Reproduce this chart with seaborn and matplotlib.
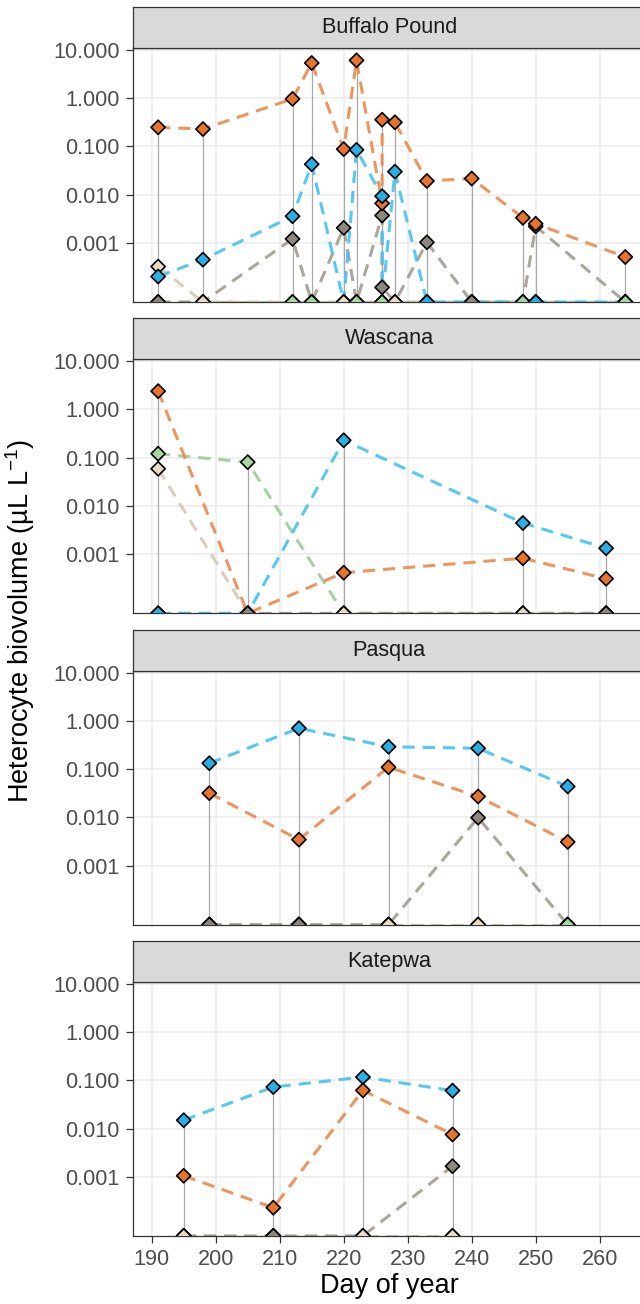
import numpy as np
import pandas as pd
import matplotlib
matplotlib.use("Agg")
import matplotlib.pyplot as plt
import seaborn as sns

# ---------------------------------------------------------------------------
# Heterocyte biovolume (uL/L) per taxon, by lake and day of year.
# A value of 0 means no heterocytes were counted in that sample.
# ---------------------------------------------------------------------------
lakes = ["Buffalo Pound", "Wascana", "Pasqua", "Katepwa"]
taxa = ["Nodularia", "Anabaenopsis", "Gloeotrichia", "Dolichospermum", "Aphanizomenon"]

# Buffalo Pound (two casts on day 226)
bp_day = [191, 198, 212, 215, 220, 222, 226, 226, 228, 233, 240, 248, 250, 264]
bp_dolichospermum = [0.249, 0.229, 0.966, 5.36, 0.088, 6.08, 0.0066, 0.358, 0.316,
                     0.0192, 0.0216, 0.00332, 0.00249, 0.00051]
bp_aphanizomenon = [0.000201, 0.00045, 0.00358, 0.0428, 0, 0.085, 0.0093, 0, 0.030,
                    0, 0, 0, 0, 0]
bp_gloeotrichia = [0, 0, 0.00121, 0, 0.00205, 0, 0.0037, 0.00012, 0, 0.00103,
                   0, 0, 0.0022, 0]
bp_anabaenopsis = [0.000323, 0, 0, 0, 0, 0, 0, 0, 0, 0, 0, 0, 0, 0]
bp_nodularia = [0, 0, 0, 0, 0, 0, 0, 0, 0, 0, 0, 0, 0, 0]

# Wascana
wa_day = [191, 205, 220, 248, 261]
wa_dolichospermum = [2.40, 0, 0.000414, 0.000825, 0.00031]
wa_aphanizomenon = [0, 0, 0.23, 0.00443, 0.00133]
wa_gloeotrichia = [0, 0, 0, 0, 0]
wa_anabaenopsis = [0.059, 0, 0, 0, 0]
wa_nodularia = [0.121, 0.081, 0, 0, 0]

# Pasqua
pa_day = [199, 213, 227, 241, 255]
pa_dolichospermum = [0.0316, 0.00344, 0.109, 0.027, 0.00308]
pa_aphanizomenon = [0.132, 0.70, 0.29, 0.269, 0.0435]
pa_gloeotrichia = [0, 0, 0, 0.0098, 0]
pa_anabaenopsis = [0, 0, 0, 0, 0]
pa_nodularia = [0, 0, 0, 0, 0]

# Katepwa
ka_day = [195, 209, 223, 237]
ka_dolichospermum = [0.00105, 0.000229, 0.062, 0.00753]
ka_aphanizomenon = [0.0149, 0.0726, 0.117, 0.0612]
ka_gloeotrichia = [0, 0, 0, 0.00166]
ka_anabaenopsis = [0, 0, 0, 0]
ka_nodularia = [0, 0, 0, 0]

# taxon entered last in each sample's rows (ordering of the long table)
bp_last_row = ["Gloeotrichia", "Anabaenopsis", "Nodularia", "Nodularia", "Anabaenopsis",
               "Nodularia", "Nodularia", "Nodularia", "Anabaenopsis", "Aphanizomenon",
               "Gloeotrichia", "Nodularia", "Aphanizomenon", "Nodularia"]
wa_last_row = ["Aphanizomenon", "Gloeotrichia", "Anabaenopsis", "Anabaenopsis", "Gloeotrichia"]
pa_last_row = ["Gloeotrichia", "Gloeotrichia", "Anabaenopsis", "Anabaenopsis", "Nodularia"]
ka_last_row = ["Anabaenopsis", "Gloeotrichia", "Anabaenopsis", "Anabaenopsis"]

y_ticks = [0.001, 0.01, 0.1, 1, 10]
y_tick_labels = ["0.001", "0.010", "0.100", "1.000", "10.000"]
x_ticks = [190, 200, 210, 220, 230, 240, 250, 260]

# ---------------------------------------------------------------------------
# Long table
# ---------------------------------------------------------------------------
lake_tables = {
    "Buffalo Pound": (bp_day, [bp_nodularia, bp_anabaenopsis, bp_gloeotrichia,
                               bp_dolichospermum, bp_aphanizomenon], bp_last_row),
    "Wascana": (wa_day, [wa_nodularia, wa_anabaenopsis, wa_gloeotrichia,
                         wa_dolichospermum, wa_aphanizomenon], wa_last_row),
    "Pasqua": (pa_day, [pa_nodularia, pa_anabaenopsis, pa_gloeotrichia,
                        pa_dolichospermum, pa_aphanizomenon], pa_last_row),
    "Katepwa": (ka_day, [ka_nodularia, ka_anabaenopsis, ka_gloeotrichia,
                         ka_dolichospermum, ka_aphanizomenon], ka_last_row),
}

records = []
for lake in lakes:
    days, series, last_row = lake_tables[lake]
    by_taxon = dict(zip(taxa, series))
    for i, d in enumerate(days):
        order = [t for t in taxa if t != last_row[i]] + [last_row[i]]
        for t in order:
            records.append({"lake": lake, "sample": i, "day": d, "taxon": t,
                            "biovolume": by_taxon[t][i]})
df = pd.DataFrame(records)

y_lo, y_hi = 10 ** -4.225, 10 ** 1.04
x_lo, x_hi = 187.12, 267.08
# zeros sit on the lower panel edge
df["y"] = np.where(df["biovolume"] > 0, df["biovolume"], y_lo)

marker_pal = {"Dolichospermum": "#E8742C", "Aphanizomenon": "#2AAEE6",
              "Gloeotrichia": "#8E877D", "Anabaenopsis": "#EAD9C3",
              "Nodularia": "#A6D6A1"}
line_pal = {"Dolichospermum": "#EA8A4C", "Aphanizomenon": "#43C2F0",
            "Gloeotrichia": "#A29C91", "Anabaenopsis": "#D6C8B6",
            "Nodularia": "#9DCC98"}

# ---------------------------------------------------------------------------
# Figure
# ---------------------------------------------------------------------------
sns.set_theme(style="white")
plt.rcParams["font.family"] = ["Liberation Sans", "DejaVu Sans"]
plt.rcParams["mathtext.fontset"] = "custom"
plt.rcParams["mathtext.rm"] = "Liberation Sans"
plt.rcParams["mathtext.it"] = "Liberation Sans:italic"
plt.rcParams["mathtext.bf"] = "Liberation Sans:bold"

W, H = 640, 1304
fig = plt.figure(figsize=(W / 100, H / 100), dpi=100)

left_px, right_px = 133.3, 645.0
panel_h, strip_h, pitch, first_top = 254.0, 41.0, 311.3, 48.0
border = "#333333"

for k, lake in enumerate(lakes):
    top = first_top + pitch * k
    ax = fig.add_axes([left_px / W, 1 - (top + panel_h) / H,
                       (right_px - left_px) / W, panel_h / H])
    sax = fig.add_axes([left_px / W, 1 - top / H,
                        (right_px - left_px) / W, strip_h / H])

    ax.set_yscale("log")
    ax.set_xlim(x_lo, x_hi)
    ax.set_ylim(y_lo, y_hi)
    ax.set_axisbelow(True)

    d = df[df["lake"] == lake]

    # stems from the panel floor to the largest value of each sample
    stem = d.groupby("sample").agg(day=("day", "first"), top=("y", "max"))
    stem = stem[stem["top"] > y_lo]
    ax.vlines(stem["day"], y_lo, stem["top"], color="#A8A8A8", lw=0.9, zorder=1.5)

    sns.lineplot(data=d, x="day", y="y", hue="taxon", hue_order=taxa,
                 palette=line_pal, estimator=None, sort=False, units="taxon",
                 linestyle=(0, (4.0, 2.6)), lw=2.2, alpha=0.9,
                 legend=False, ax=ax, zorder=2)

    sns.scatterplot(data=d, x="day", y="y", hue="taxon", hue_order=taxa,
                    palette=marker_pal, marker="D", s=52,
                    edgecolor="black", linewidth=1.2, legend=False,
                    ax=ax, zorder=3)

    ax.set_xticks(x_ticks)
    ax.set_yticks(y_ticks)
    ax.set_yticklabels(y_tick_labels)
    ax.yaxis.set_minor_locator(matplotlib.ticker.NullLocator())
    ax.xaxis.set_minor_locator(matplotlib.ticker.NullLocator())
    ax.grid(True, which="major", color="#EBEBEB", lw=1.1)
    ax.set_xlabel("")
    ax.set_ylabel("")
    ax.tick_params(axis="both", which="major", labelsize=15.6,
                   labelcolor="#4D4D4D", color=border, length=4.7, width=0.9,
                   pad=5, left=True, bottom=(k == len(lakes) - 1),
                   labelbottom=(k == len(lakes) - 1))
    for sp in ax.spines.values():
        sp.set_color(border)
        sp.set_linewidth(0.9)
    ax.set_facecolor("white")

    # facet strip
    sax.set_facecolor("#D9D9D9")
    sax.set_xticks([])
    sax.set_yticks([])
    for sp in sax.spines.values():
        sp.set_color(border)
        sp.set_linewidth(0.9)
    sax.text(0.5, 0.5, lake, transform=sax.transAxes, ha="center", va="center",
             fontsize=15.6, color="#1A1A1A")

fig.text(20 / W, 1 - 621 / H, r"Heterocyte biovolume (µL L$^{-1}$)",
         rotation=90, ha="center", va="center", fontsize=19.5, color="black")
fig.text(389 / W, 1 - 1286 / H, "Day of year", ha="center", va="center",
         fontsize=19.5, color="black")

fig.savefig("out.png", dpi=100)
